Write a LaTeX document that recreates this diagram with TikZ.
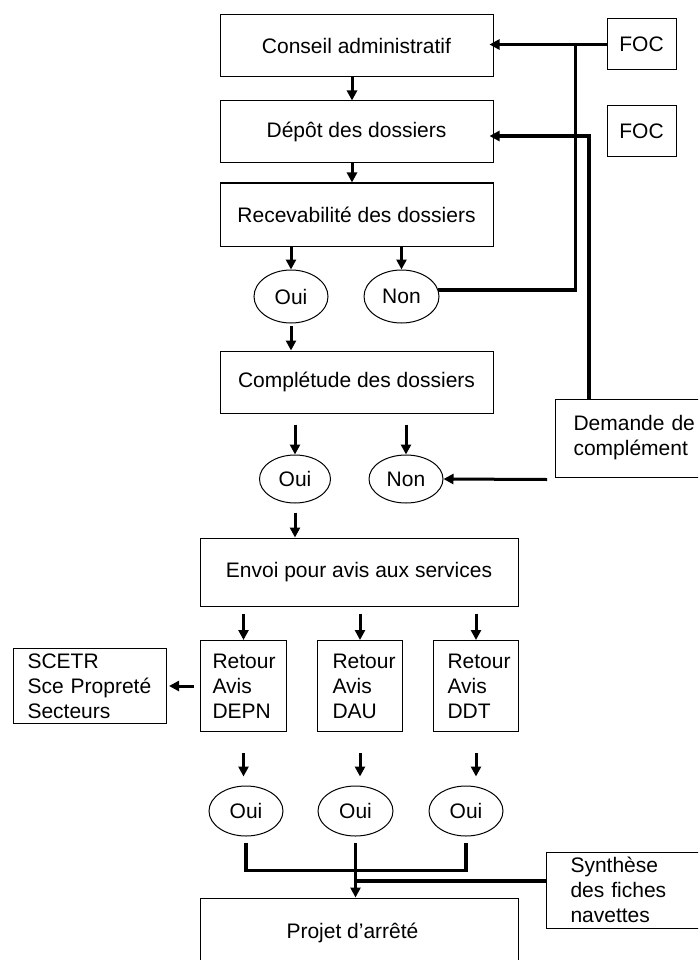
\documentclass[tikz,border=0pt]{standalone}
\usepackage{fontspec}
\setmainfont{Liberation Sans}
\usetikzlibrary{shapes.geometric,arrows.meta,calc}
\tikzset{
  box/.style={draw, line width=1pt, inner sep=0pt, font=\fontsize{21}{25}\selectfont, align=center},
  lbox/.style={draw, line width=1pt, inner ysep=0pt, font=\fontsize{21}{25}\selectfont, align=left},
  oval/.style={draw, ellipse, line width=1pt, inner sep=0pt, font=\fontsize{21}{25}\selectfont, minimum width=74pt, minimum height=50pt},
  arr/.style={line width=3pt, -{Triangle[length=10pt,width=10pt]}},
  conn/.style={line width=3.5pt},
}
\begin{document}
\begin{tikzpicture}[x=1pt,y=-1pt]
\useasboundingbox (0,0) rectangle (698,960);
\fill[white] (0,0) rectangle (698,960);
\clip (0,0) rectangle (698,960);

% boxes
\node[box,minimum width=273pt,minimum height=62pt] (conseil) at (356.5,46) {Conseil administratif};
\node[box,minimum width=273pt,minimum height=62pt] (depot) at (356.5,132) {Dépôt des dossiers};
\node[box,minimum width=273pt,minimum height=63pt] (recev) at (356.5,214.5) {Recevabilité des dossiers};
\node[box,minimum width=69pt,minimum height=51pt] (foc1) at (641.5,44.5) {FOC};
\node[box,minimum width=69pt,minimum height=51pt] (foc2) at (641.5,131.5) {FOC};
\node[oval,minimum height=53pt] (oui1) at (291,296.5) {Oui};
\node[oval,minimum width=75pt,minimum height=53pt] (non1) at (401.5,296.5) {Non};
\node[box,minimum width=273pt,minimum height=62pt] (complet) at (356.5,382) {Complétude des dossiers};
\node[oval,minimum width=71pt,minimum height=48pt] (oui2) at (295,479) {Oui};
\node[oval,minimum height=48pt] (non2) at (406,479) {Non};
\node[lbox,anchor=west,inner xsep=18pt,text width=150pt,minimum height=78pt] (demande) at (555,438) {Demande de\\complément};
\node[box,minimum width=318pt,minimum height=68pt] (envoi) at (359,572) {Envoi pour avis aux services};
\node[lbox,anchor=north west,inner xsep=12pt,text width=62pt,minimum height=91pt] (depn) at (200,640) {Retour\\Avis\\DEPN};
\node[lbox,anchor=north west,inner xsep=15pt,text width=55pt,minimum height=91pt] (dau) at (317,640) {Retour\\Avis\\DAU};
\node[lbox,anchor=north west,inner xsep=14pt,text width=57pt,minimum height=91pt] (ddt) at (433,640) {Retour\\Avis\\DDT};
\node[lbox,anchor=north west,inner xsep=14pt,text width=125pt,minimum height=75pt] (scetr) at (13,648) {SCETR\\Sce Propreté\\Secteurs};
\node[oval] (ouia) at (246,811) {Oui};
\node[oval,minimum width=75pt] (ouib) at (355.5,811) {Oui};
\node[oval] (ouic) at (466,811) {Oui};
\node[lbox,anchor=west,inner xsep=24pt,text width=140pt,minimum height=76pt] (synth) at (546,890) {Synthèse\\des fiches\\navettes};
\node[box,minimum width=318pt,minimum height=70pt] (projet) at (359,933) {\hspace*{-13pt}Projet d’arrêté};

% vertical flow arrows
\draw[arr] ([xshift=-4.5pt]conseil.south) -- ([xshift=-4.5pt]depot.north);
\draw[arr] ([xshift=-4.5pt]depot.south) -- ([xshift=-4.5pt]recev.north);
\draw[arr] (recev.south -| oui1) -- (oui1.north);
\draw[arr] (recev.south -| non1) -- (non1.north);
\draw[arr] ($(oui1.south)+(0,2)$) -- (oui1 |- complet.north);
\draw[arr] ($(complet.south -| oui2)+(0,11)$) -- (oui2.north);
\draw[arr] ($(complet.south -| non2)+(0,11)$) -- (non2.north);
\draw[arr] ($(oui2.south)+(0,9)$) -- (oui2 |- envoi.north);
\draw[arr] ($(envoi.south -| depn)+(0,7)$) -- (depn.north);
\draw[arr] ($(envoi.south -| dau)+(0,7)$) -- (dau.north);
\draw[arr] ($(envoi.south -| ddt)+(0,7)$) -- (ddt.north);
\draw[arr] ([xshift=-6pt]depn.west) -- ($(scetr.east |- depn.west)+(2,0)$);
\draw[arr] ($(depn.south)+(0,21)$) -- ($(depn.south |- ouia.north)+(0,-9)$);
\draw[arr] ($(dau.south)+(0,21)$) -- ($(dau.south |- ouib.north)+(0,-9)$);
\draw[arr] ($(ddt.south)+(0,21)$) -- ($(ddt.south |- ouic.north)+(0,-9)$);

% merging lines at the bottom
\draw[conn] ([yshift=-6pt]ouia.south) -- ++(0,28) -| ([yshift=-6pt]ouic.south);
\draw[arr] ([yshift=-6pt]ouib.south) -- (ouib.south |- projet.north);
\draw[conn] ($(synth.west)+(0,-9)$) coordinate (sj) -- (sj -| ouib.south);

% feedback lines at the top
\draw[arr,conn] (foc1.west) -- ($(conseil.east |- foc1.west)+(-4,0)$);
\draw[conn] (non1.10) -| ($(foc1.west)+(-31,0)$);
\draw[arr,conn] ($(demande.north west)+(34,0)$) |- ($(depot.east)+(-4,4)$);
\draw[arr] ($(demande.south west)+(-8,2)$) -- (non2.east);
\end{tikzpicture}
\end{document}
